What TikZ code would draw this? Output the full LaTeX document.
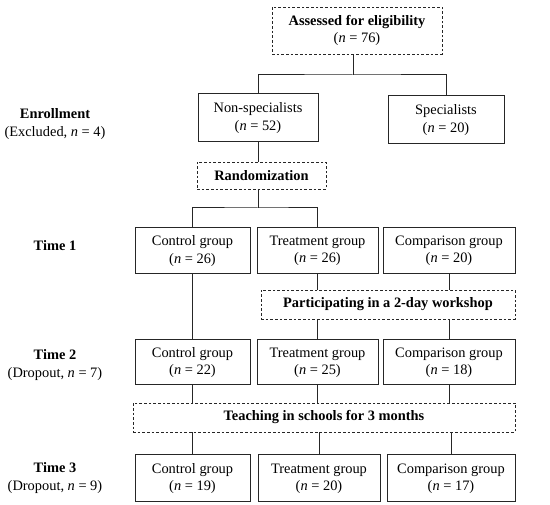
\documentclass[tikz,border=0pt]{standalone}
\usepackage{fontspec}
\setmainfont{Liberation Serif}

\begin{document}
\begin{tikzpicture}[
    x=0.75pt, y=-0.75pt,
    font=\fontsize{10.8}{13}\selectfont,
    box/.style={
        rectangle, draw=black!85, line width=0.75pt,
        inner sep=0pt, align=center, minimum height=34.5pt
    },
    dashbox/.style={
        box, dash pattern=on 2pt off 1.5pt, line width=0.6pt,
        font=\fontsize{10.8}{13}\selectfont\bfseries
    },
    lbl/.style={
        align=center, inner sep=1pt
    },
    conn/.style={
        draw=black!85, line width=0.75pt
    }
]

\useasboundingbox (0,0) rectangle (550,505);

% Etapa de recrutamento
\node[dashbox, minimum width=127.5pt, minimum height=35.25pt] (assess) at (357, 30.5) {
    Assessed for eligibility\\
    {\mdseries (\textit{n} = 76)}
};

\node[box, minimum width=90pt, minimum height=36pt] (nonspec) at (258, 118) {
    Non-specialists\\
    (\textit{n} = 52)
};

\node[box, minimum width=87pt, minimum height=36pt] (spec) at (446, 120) {
    Specialists\\
    (\textit{n} = 20)
};

\node[dashbox, minimum width=96.75pt, minimum height=20.25pt] (rand) at (261.5, 175.5) {Randomization};

% Time 1
\node[box, minimum width=86.25pt] (ctrlA) at (192.5, 251) {
    Control group\\
    (\textit{n} = 26)
};
\node[box, minimum width=90.75pt] (treatA) at (317.5, 251) {
    Treatment group\\
    (\textit{n} = 26)
};
\node[box, minimum width=99pt] (compA) at (449, 251) {
    Comparison group\\
    (\textit{n} = 20)
};

\node[dashbox, minimum width=190.5pt, minimum height=21.75pt] (workshop) at (388, 304.5) {Participating in a 2-day workshop};

% Time 2
\node[box, minimum width=86.25pt, minimum height=33.75pt] (ctrlB) at (192.5, 362.5) {
    Control group\\
    (\textit{n} = 22)
};
\node[box, minimum width=90.75pt, minimum height=33.75pt] (treatB) at (317.5, 362.5) {
    Treatment group\\
    (\textit{n} = 25)
};
\node[box, minimum width=99pt, minimum height=33.75pt] (compB) at (449, 362.5) {
    Comparison group\\
    (\textit{n} = 18)
};

\node[dashbox, minimum width=286.5pt, minimum height=21.75pt] (teach) at (324, 417.5) {Teaching in schools for 3 months};

% Time 3
\node[box, minimum width=86.25pt, minimum height=35.25pt] (ctrlC) at (192.5, 478.5) {
    Control group\\
    (\textit{n} = 19)
};
\node[box, minimum width=91.5pt, minimum height=35.25pt] (treatC) at (319, 478.5) {
    Treatment group\\
    (\textit{n} = 20)
};
\node[box, minimum width=96pt, minimum height=35.25pt] (compC) at (451, 478.5) {
    Comparison group\\
    (\textit{n} = 17)
};

% Rotulos das etapas
\node[lbl] (enroll) at (55, 124) {\textbf{Enrollment}\\(Excluded, \textit{n} = 4)};
\node[lbl] (time1) at (55, 246) {\textbf{Time 1}};
\node[lbl] (time2) at (55, 365) {\textbf{Time 2}\\(Dropout, \textit{n} = 7)};
\node[lbl] (time3) at (55, 478) {\textbf{Time 3}\\(Dropout, \textit{n} = 9)};

% ================= Conexoes =================

% 1. Elegibilidade -> grupos
\coordinate (split1) at (353, 75);
\draw[conn] (assess.south -| split1) -- (split1);
\draw[conn] (nonspec.north) |- (split1) -| (spec.north);

% 2. Randomizacao
\draw[conn] (nonspec.south) -- (nonspec.south |- rand.north);
\coordinate (split2) at (258, 208);
\draw[conn] (rand.south -| split2) -- (split2);
\draw[conn] (ctrlA.north) |- (split2) -| (treatA.north);

% 3. Time 1 -> Time 2
\draw[conn] (ctrlA.south) -- (ctrlB.north);
\draw[conn] (treatA.south) -- (treatA.south |- workshop.north);
\draw[conn] (compA.south) -- (compA.south |- workshop.north);
\draw[conn] (treatB.north |- workshop.south) -- (treatB.north);
\draw[conn] (compB.north |- workshop.south) -- (compB.north);

% 4. Time 2 -> Time 3
\draw[conn] (ctrlB.south) -- (ctrlB.south |- teach.north);
\draw[conn] (treatB.south) -- (treatB.south |- teach.north);
\draw[conn] (compB.south) -- (compB.south |- teach.north);
\draw[conn] (ctrlC.north |- teach.south) -- (ctrlC.north);
\draw[conn] (treatC.north |- teach.south) -- (treatC.north);
\draw[conn] (compC.north |- teach.south) -- (compC.north);

\end{tikzpicture}
\end{document}
